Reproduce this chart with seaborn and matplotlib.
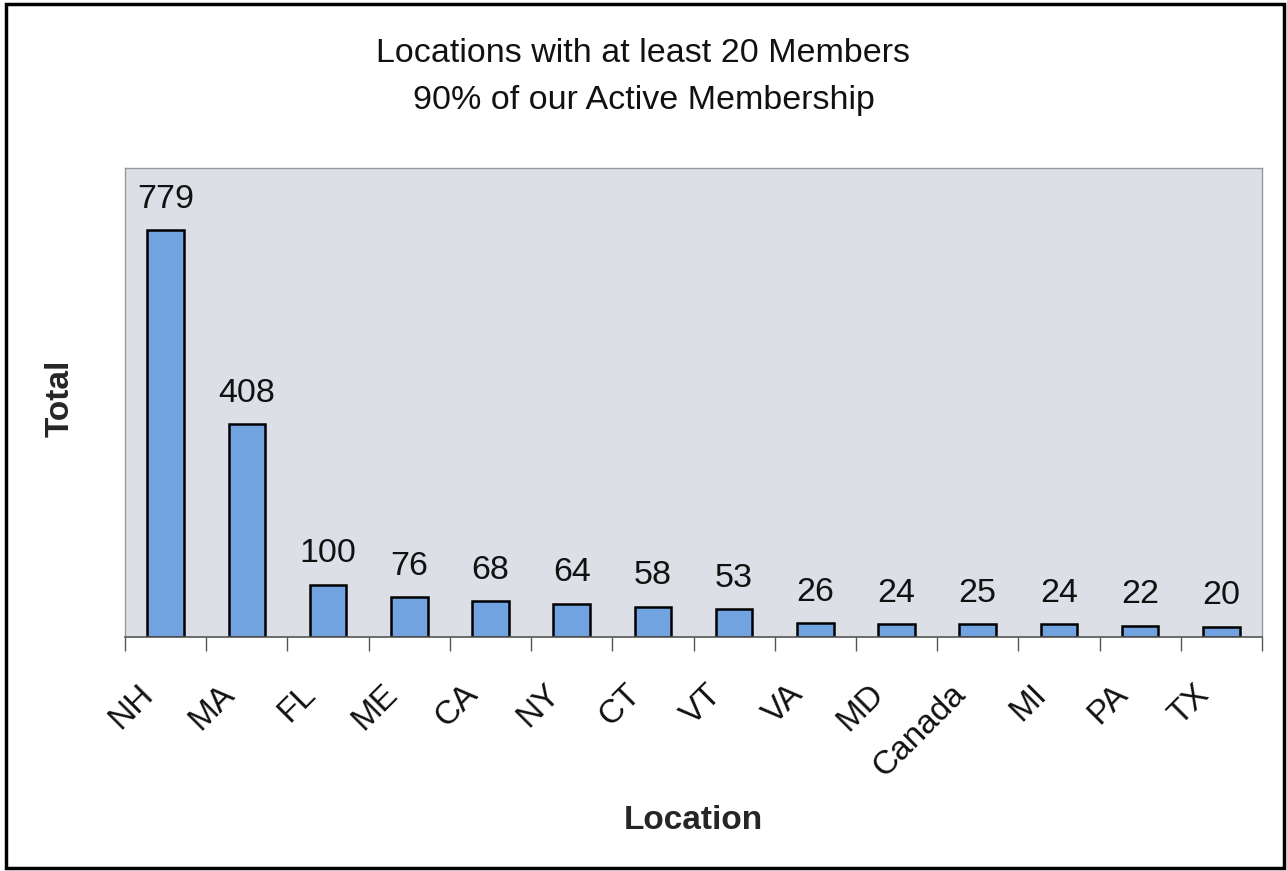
import matplotlib
matplotlib.use("Agg")
import matplotlib.pyplot as plt
import matplotlib.transforms as mtransforms
import seaborn as sns
import numpy as np
import pandas as pd
from matplotlib.patches import Rectangle

locations = ["NH", "MA", "FL", "ME", "CA", "NY", "CT", "VT", "VA", "MD", "Canada", "MI", "PA", "TX"]
totals = [779, 408, 100, 76, 68, 64, 58, 53, 26, 24, 25, 24, 22, 20]
title_lines = ["Locations with at least 20 Members", "90% of our Active Membership"]

sns.set_theme(style="white")
plt.rcParams['font.family'] = ['Liberation Sans', 'DejaVu Sans']

df = pd.DataFrame({"Location": locations, "Total": totals})

fig = plt.figure(figsize=(12.87, 8.71), dpi=100)
ax = fig.add_axes([125/1287, 1 - 637/871, (1262-125)/1287, (637-168)/871])
ax.set_facecolor("#dcdfe6")

sns.barplot(data=df, x="Location", y="Total", ax=ax, color="#71a3e0",
            edgecolor="black", linewidth=1.8, width=0.45, saturation=1)

ax.set_xlim(-0.5, len(locations) - 0.5)
ax.set_ylim(0, 898)
ax.set_yticks([])

for i, v in enumerate(totals):
    ax.annotate(str(v), (i, v), xytext=(0, 11), textcoords="offset points",
                ha="center", va="bottom", fontsize=24.5, color="#111111")

ax.set_xticks(range(len(locations)))
ax.set_xticklabels(locations, rotation=45, ha="right", rotation_mode="anchor",
                   fontsize=24, color="#111111")
ax.tick_params(axis="x", which="major", length=0, pad=30)
offset = mtransforms.ScaledTranslation(-28/100, 0, fig.dpi_scale_trans)
for lbl in ax.get_xticklabels():
    lbl.set_transform(lbl.get_transform() + offset)
ax.set_xticks(np.arange(-0.5, len(locations), 1), minor=True)
ax.tick_params(axis="x", which="minor", length=10, width=1, color="#555555", direction="out", bottom=True)

for side in ["top", "right", "left"]:
    ax.spines[side].set_color("#999999")
    ax.spines[side].set_linewidth(1)
ax.spines["bottom"].set_color("#555555")
ax.spines["bottom"].set_linewidth(1.2)

ax.set_xlabel("Location", fontsize=24, fontweight="bold", labelpad=0)
ax.xaxis.label.set_va("center")
ax.xaxis.set_label_coords(0.5, -(820-637)/469)
ax.set_ylabel("Total", fontsize=24, fontweight="bold")
ax.yaxis.label.set_va("center")
ax.yaxis.set_label_coords(-(125-60)/1137, (637-398)/469)

fig.text(0.5, 1 - 53/871, title_lines[0], ha="center", va="center", fontsize=24.5, color="#111111")
fig.text(0.5, 1 - 101/871, title_lines[1], ha="center", va="center", fontsize=24.5, color="#111111")

fig.patches.append(Rectangle((6/1287, 3/871), (1284-6)/1287, (867-3)/871, transform=fig.transFigure,
                             fill=False, edgecolor="black", linewidth=2.5))

fig.savefig("out.png", dpi=100, facecolor="white")
